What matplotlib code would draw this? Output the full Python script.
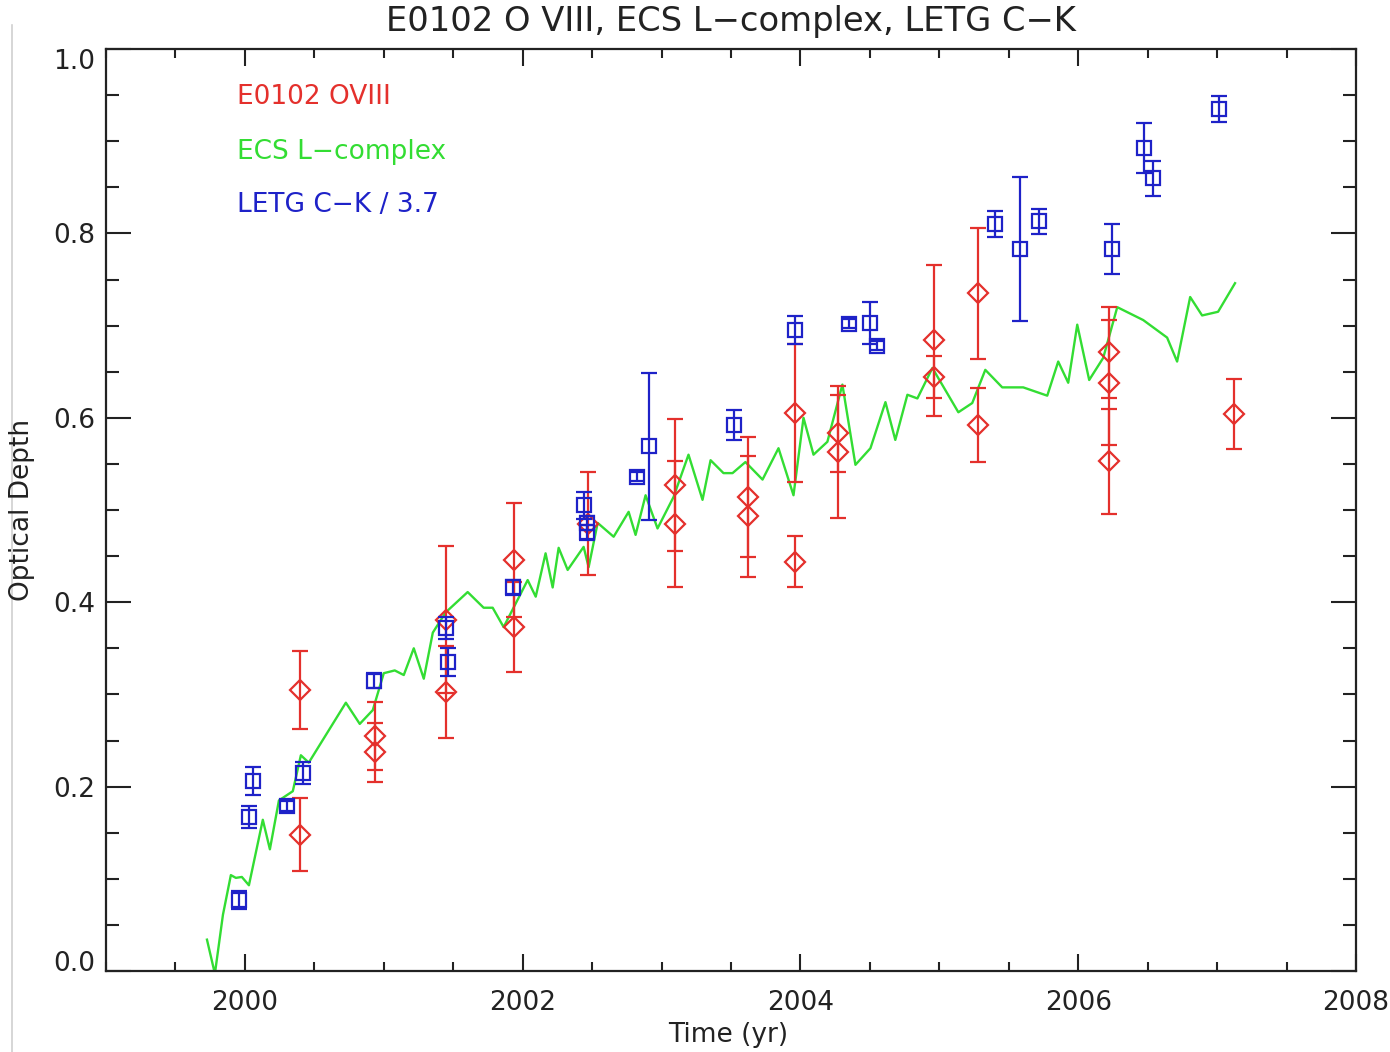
import numpy as np
import matplotlib
matplotlib.use('Agg')
import matplotlib.pyplot as plt
from matplotlib import font_manager
from matplotlib.lines import Line2D
from matplotlib.ticker import MultipleLocator

# pick a narrow sans if there is one
names = set(f.name for f in font_manager.fontManager.ttflist)
if 'Liberation Sans Narrow' in names:
    plt.rcParams['font.family'] = ['Liberation Sans Narrow', 'DejaVu Sans']
    fs = 26
else:
    plt.rcParams['font.family'] = ['DejaVu Sans']
    fs = 19

# E0102 O VIII (red diamonds)
oviii_t = [2000.40, 2000.40, 2000.94, 2000.94, 2001.45, 2001.45, 2001.94, 2001.94,
           2002.47, 2003.10, 2003.10, 2003.62, 2003.62, 2003.96, 2003.96,
           2004.27, 2004.27, 2004.96, 2004.96, 2005.28, 2005.28,
           2006.22, 2006.22, 2006.22, 2007.12]
oviii_y = [0.305, 0.148, 0.255, 0.237, 0.381, 0.303, 0.446, 0.373,
           0.485, 0.527, 0.485, 0.514, 0.493, 0.605, 0.444,
           0.583, 0.563, 0.684, 0.644, 0.735, 0.592,
           0.671, 0.638, 0.553, 0.604]
oviii_e = [0.042, 0.040, 0.037, 0.032, 0.080, 0.050, 0.062, 0.049,
           0.056, 0.072, 0.068, 0.065, 0.066, 0.075, 0.028,
           0.042, 0.072, 0.082, 0.023, 0.071, 0.040,
           0.049, 0.068, 0.057, 0.038]

# LETG C-K / 3.7 (blue squares)
letg_t = [1999.96, 2000.03, 2000.06, 2000.30, 2000.42, 2000.93, 2001.45, 2001.46,
          2001.93, 2002.44, 2002.46, 2002.46, 2002.82, 2002.91, 2003.52, 2003.96,
          2004.35, 2004.50, 2004.55, 2005.40, 2005.58, 2005.72, 2006.24, 2006.47,
          2006.54, 2007.01]
letg_y = [0.077, 0.167, 0.206, 0.179, 0.215, 0.315, 0.372, 0.335,
          0.416, 0.505, 0.486, 0.476, 0.536, 0.569, 0.592, 0.695,
          0.702, 0.703, 0.678, 0.810, 0.783, 0.813, 0.783, 0.893,
          0.860, 0.935]
letg_e = [0.010, 0.012, 0.015, 0.005, 0.012, 0.008, 0.012, 0.015,
          0.008, 0.015, 0.008, 0.008, 0.005, 0.080, 0.016, 0.015,
          0.005, 0.023, 0.005, 0.014, 0.078, 0.014, 0.027, 0.027,
          0.019, 0.014]

# ECS L-complex (green line)
ecs_t = [1999.727, 1999.784, 1999.842, 1999.899, 1999.935, 1999.978, 2000.029, 2000.129,
         2000.180, 2000.245, 2000.345, 2000.403, 2000.460, 2000.727, 2000.827, 2000.921,
         2001.000, 2001.079, 2001.144, 2001.216, 2001.288, 2001.353, 2001.446, 2001.604,
         2001.719, 2001.784, 2001.863, 2002.036, 2002.094, 2002.165, 2002.216, 2002.259,
         2002.324, 2002.439, 2002.475, 2002.540, 2002.655, 2002.763, 2002.813, 2002.885,
         2002.971, 2003.086, 2003.194, 2003.295, 2003.353, 2003.446, 2003.511, 2003.604,
         2003.727, 2003.842, 2003.950, 2004.022, 2004.094, 2004.194, 2004.302, 2004.396,
         2004.504, 2004.612, 2004.683, 2004.770, 2004.842, 2004.950, 2005.137, 2005.237,
         2005.331, 2005.453, 2005.604, 2005.777, 2005.856, 2005.928, 2005.993, 2006.079,
         2006.180, 2006.281, 2006.468, 2006.640, 2006.712, 2006.806, 2006.892, 2007.007,
         2007.129]
ecs_y = [0.034, -0.003, 0.061, 0.104, 0.101, 0.102, 0.093, 0.164,
         0.132, 0.185, 0.195, 0.234, 0.226, 0.291, 0.268, 0.283,
         0.323, 0.326, 0.321, 0.350, 0.317, 0.367, 0.389, 0.411,
         0.394, 0.394, 0.373, 0.424, 0.406, 0.453, 0.416, 0.459,
         0.435, 0.460, 0.438, 0.486, 0.471, 0.498, 0.473, 0.516,
         0.480, 0.514, 0.560, 0.511, 0.554, 0.540, 0.540, 0.552,
         0.533, 0.567, 0.516, 0.600, 0.560, 0.574, 0.636, 0.549,
         0.567, 0.617, 0.576, 0.625, 0.621, 0.654, 0.606, 0.616,
         0.652, 0.633, 0.633, 0.624, 0.661, 0.638, 0.701, 0.641,
         0.665, 0.720, 0.706, 0.687, 0.661, 0.731, 0.711, 0.715,
         0.746]

red = '#e4302c'
green = '#33dd33'
blue = '#1e22c8'
ink = '#222222'

fig = plt.figure(figsize=(13.9, 10.52), dpi=100)
ax = fig.add_axes([106/1390, 1-971/1052, 1250/1390, 922/1052])

ax.plot(ecs_t, ecs_y, color=green, lw=1.7, zorder=2)
ax.errorbar(oviii_t, oviii_y, yerr=oviii_e, fmt='D', ms=10.5, mfc='none', mec=red,
            mew=1.6, ecolor=red, elinewidth=1.6, capsize=6, capthick=1.6, zorder=3)
ax.errorbar(letg_t, letg_y, yerr=letg_e, fmt='s', ms=10.5, mfc='none', mec=blue,
            mew=1.6, ecolor=blue, elinewidth=1.6, capsize=6, capthick=1.6, zorder=4)

ax.set_xlim(1999, 2008)
ax.set_ylim(0, 1.0)
ax.set_xticks([2000, 2002, 2004, 2006, 2008])
ax.set_yticks([0.0, 0.2, 0.4, 0.6, 0.8, 1.0])
ax.set_yticklabels(['0.0', '0.2', '0.4', '0.6', '0.8', '1.0'])
ax.xaxis.set_minor_locator(MultipleLocator(0.5))
ax.yaxis.set_minor_locator(MultipleLocator(0.05))
ax.tick_params(axis='x', which='major', direction='in', length=12, width=1.5,
               top=True, pad=14, labelsize=fs, colors=ink)
ax.tick_params(axis='x', which='minor', direction='in', length=6.5, width=1.5, top=True, colors=ink)
ax.tick_params(axis='y', which='major', direction='in', length=18, width=1.5,
               right=True, pad=8, labelsize=fs, colors=ink)
ax.tick_params(axis='y', which='minor', direction='in', length=9.5, width=1.5, right=True, colors=ink)
for s in ax.spines.values():
    s.set_linewidth(1.6)
    s.set_color(ink)
ylbls = ax.get_yticklabels()
ylbls[0].set_va('baseline')
ylbls[-1].set_va('top')

# labels in the corner
ax.text(1999.94, 0.948, 'E0102 OVIII', color=red, fontsize=fs, va='center')
ax.text(1999.94, 0.888, 'ECS L\u2212complex', color=green, fontsize=fs, va='center')
ax.text(1999.94, 0.831, 'LETG C\u2212K / 3.7', color=blue, fontsize=fs, va='center')

fig.text(731/1390, 1-22/1052, 'E0102 O VIII, ECS L\u2212complex, LETG C\u2212K',
         ha='center', va='center', fontsize=fs*1.28, color=ink)
fig.text(728/1390, 1-1035/1052, 'Time (yr)', ha='center', va='center', fontsize=fs, color=ink)
fig.text(22/1390, 1-510/1052, 'Optical Depth', ha='center', va='center', rotation=90,
         fontsize=fs, color=ink)

fig.add_artist(Line2D([12/1390, 12/1390], [0, 1-25/1052], transform=fig.transFigure,
                      color='#d0d0d0', lw=1.2))

fig.savefig('out.png', dpi=100)
